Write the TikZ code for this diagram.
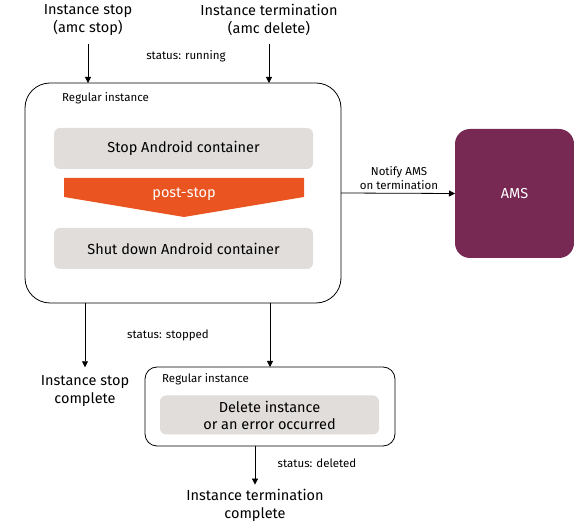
\documentclass[tikz,border=0pt]{standalone}
\usepackage{fontspec}
\setmainfont{Fira Sans}
\usepackage{xcolor}
\usepackage{tikz}
\usetikzlibrary{arrows.meta}

\definecolor{ubgray}{RGB}{224,221,219}
\definecolor{uborange}{RGB}{233,84,32}
\definecolor{ubpurple}{RGB}{119,41,83}

\begin{document}
\begin{tikzpicture}[x=1pt,y=-1pt,
  big/.style={font=\fontsize{14.5}{18}\selectfont,align=center,inner sep=0pt},
  small/.style={font=\fontsize{11.5}{14}\selectfont,align=center,inner sep=0pt},
  frame/.style={draw,line width=0.8pt,inner sep=0pt,outer sep=0pt},
  stepbox/.style={fill=ubgray,rounded corners=6,inner sep=0pt,outer sep=0pt,
    font=\fontsize{14.5}{17}\selectfont,align=center},
  arr/.style={line width=0.8pt,-{Triangle[length=6pt,width=6pt]}}]
\useasboundingbox (0,0) rectangle (574,521);

\node[big] (stop) at (88,20) {Instance stop\\(amc stop)};
\node[big] (term) at (269,20) {Instance termination\\(amc delete)};
\node[small] (run) at (186,56) {status: running};

\node[frame,rounded corners=25,minimum width=316,minimum height=220] (inst) at (183,193) {};
\node[small,anchor=west] (reg) at (62,98) {Regular instance};
\node[stepbox,minimum width=259,minimum height=41] (stopc) at (183.5,148.5) {Stop Android container};
\fill[uborange] (64,178) -- (304,178) -- (304,197) -- (184,217) -- (64,197) -- cycle;
\node[big,text=white] (post) at (184,194.5) {post-stop};
\node[stepbox,minimum width=259,minimum height=41] (shutc) at (183.5,248.5) {Shut down Android container};

\node[fill=ubpurple,rounded corners=15,minimum width=119,minimum height=129,
  inner sep=0pt,outer sep=0pt,text=white,font=\fontsize{14.5}{17}\selectfont] (ams) at (514.5,193.5) {AMS};
\node[small] (notify) at (399,178) {Notify AMS\\on termination};

\node[big] (done) at (85,391) {Instance stop\\complete};
\node[small] (stopped) at (168,335) {status: stopped};

\node[frame,rounded corners=12,minimum width=250,minimum height=79] (del) at (270,406.5) {};
\node[small,anchor=west] (reg2) at (162,379) {Regular instance};
\node[stepbox,minimum width=219,minimum height=39] (delc) at (269.5,415) {Delete instance\\or an error occurred};
\node[small] (deleted) at (317,463) {status: deleted};
\node[big] (fin) at (255,505) {Instance termination\\complete};

\draw[arr] ([yshift=-8]stop.south) -- (stop.south |- inst.north);
\draw[arr] ([yshift=-8]term.south) -- (term.south |- inst.north);
\draw[arr] (inst.east) -- (ams.west);
\draw[arr] (inst.south -| done.north) -- ([yshift=8]done.north);
\draw[arr] (inst.south -| del.north) -- (del.north);
\draw[arr] (del.south -| fin.north) -- ([yshift=4]fin.north);
\end{tikzpicture}
\end{document}
